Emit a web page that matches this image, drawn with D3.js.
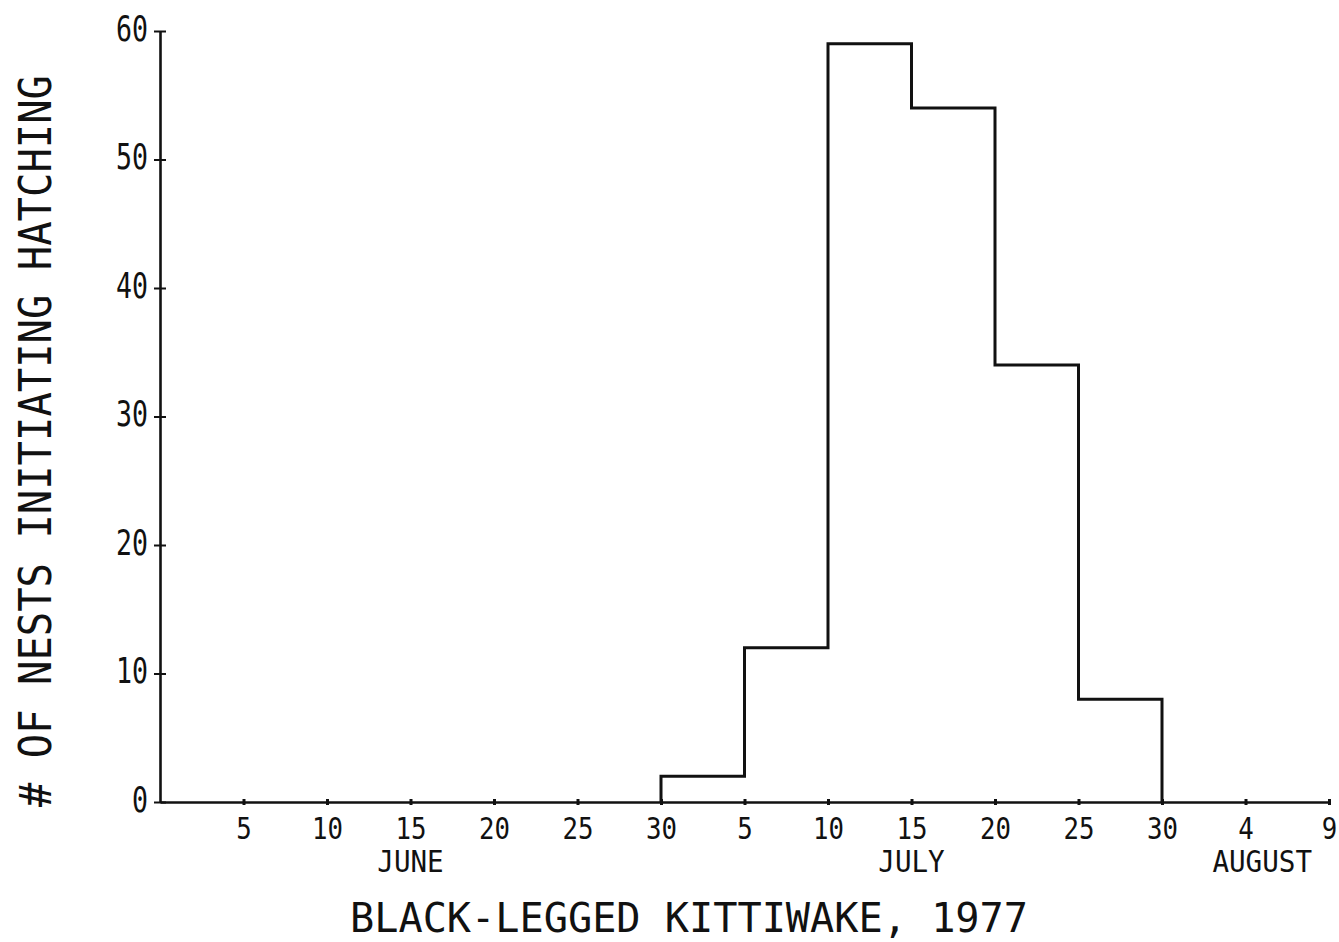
<!DOCTYPE html>
<html>
<head>
<meta charset="utf-8">
<script src="https://cdn.jsdelivr.net/npm/d3@7"></script>
<style>
  body { margin: 0; background: #fff; }
  text { fill: #111; font-family: "DejaVu Sans Mono", monospace; }
</style>
</head>
<body>
<svg id="chart" width="1339" height="942"></svg>
<script>
// days are counted from May 31 (so June 5 = 5, July 5 = 35, Aug 9 = 70)
var binStarts = [30, 35, 40, 45, 50, 55];
var nestCounts = [2, 12, 59, 54, 34, 8];
var binWidth = 5;

var xTickDays = [5, 10, 15, 20, 25, 30, 35, 40, 45, 50, 55, 60, 65, 70];
var xTickLabels = ["5", "10", "15", "20", "25", "30", "5", "10", "15", "20", "25", "30", "4", "9"];
var monthNames = ["JUNE", "JULY", "AUGUST"];
var monthDays = [15, 45, 66];
var yTicks = [0, 10, 20, 30, 40, 50, 60];

var svg = d3.select("#chart");

var x = d3.scaleLinear()
        .domain([0, 70])
        .range([160, 1329]);

var y = d3.scaleLinear()
        .domain([0, 60])
        .range([802, 31]);

// x axis
var xAxis = svg.append("g")
        .attr("class", "x axis")
        .attr("transform", "translate(0," + y(0) + ")")
        .call(d3.axisBottom(x)
            .tickValues(xTickDays)
            .tickSizeOuter(0)
            .tickFormat(function (d, i) { return xTickLabels[i]; }));

xAxis.select(".domain").attr("stroke", "#111").attr("stroke-width", 2.6);
xAxis.selectAll(".tick line")
        .attr("y1", -3).attr("y2", 3)
        .attr("stroke", "#111").attr("stroke-width", 3);
xAxis.selectAll(".tick text")
        .attr("y", 37).attr("dy", 0)
        .attr("font-size", 30)
        .attr("textLength", function (d, i) { return xTickLabels[i].length * 15.5; })
        .attr("lengthAdjust", "spacingAndGlyphs");

// y axis
var yAxis = svg.append("g")
        .attr("class", "y axis")
        .attr("transform", "translate(" + x(0) + ",0)")
        .call(d3.axisLeft(y)
            .tickValues(yTicks)
            .tickSizeOuter(0));

yAxis.select(".domain").attr("stroke", "#111").attr("stroke-width", 2.6);
yAxis.selectAll(".tick line")
        .attr("x1", -6).attr("x2", 6)
        .attr("stroke", "#111").attr("stroke-width", 2);
yAxis.selectAll(".tick text")
        .attr("x", -12).attr("y", 9).attr("dy", 0)
        .attr("font-size", 35)
        .attr("textLength", function (d) { return String(d).length * 16; })
        .attr("lengthAdjust", "spacingAndGlyphs");

// month names under the day ticks
svg.selectAll("text.month")
        .data(monthNames)
        .enter()
        .append("text")
        .attr("class", "month")
        .attr("x", function (d, i) { return x(monthDays[i]); })
        .attr("y", 872)
        .attr("text-anchor", "middle")
        .attr("font-size", 31)
        .attr("textLength", function (d) { return d.length * 16.6; })
        .attr("lengthAdjust", "spacingAndGlyphs")
        .text(function (d) { return d; });

// histogram outline
var steps = [{d: binStarts[0], v: 0}];
for (var i = 0; i < binStarts.length; i++) {
    steps.push({d: binStarts[i], v: nestCounts[i]});
}
steps.push({d: binStarts[binStarts.length - 1] + binWidth, v: 0});

var line = d3.line()
        .curve(d3.curveStepAfter)
        .x(function (d) { return x(d.d); })
        .y(function (d) { return y(d.v); });

svg.append("path")
        .datum(steps)
        .attr("d", line)
        .attr("fill", "none")
        .attr("stroke", "#111")
        .attr("stroke-width", 3);

// titles
svg.append("text")
        .attr("x", 689)
        .attr("y", 932)
        .attr("text-anchor", "middle")
        .attr("font-size", 41)
        .attr("textLength", 678)
        .attr("lengthAdjust", "spacingAndGlyphs")
        .text("BLACK-LEGGED KITTIWAKE, 1977");

svg.append("text")
        .attr("transform", "translate(51,441) rotate(-90)")
        .attr("text-anchor", "middle")
        .attr("font-size", 45)
        .attr("textLength", 732)
        .attr("lengthAdjust", "spacingAndGlyphs")
        .text("# OF NESTS INITIATING HATCHING");
</script>
</body>
</html>
